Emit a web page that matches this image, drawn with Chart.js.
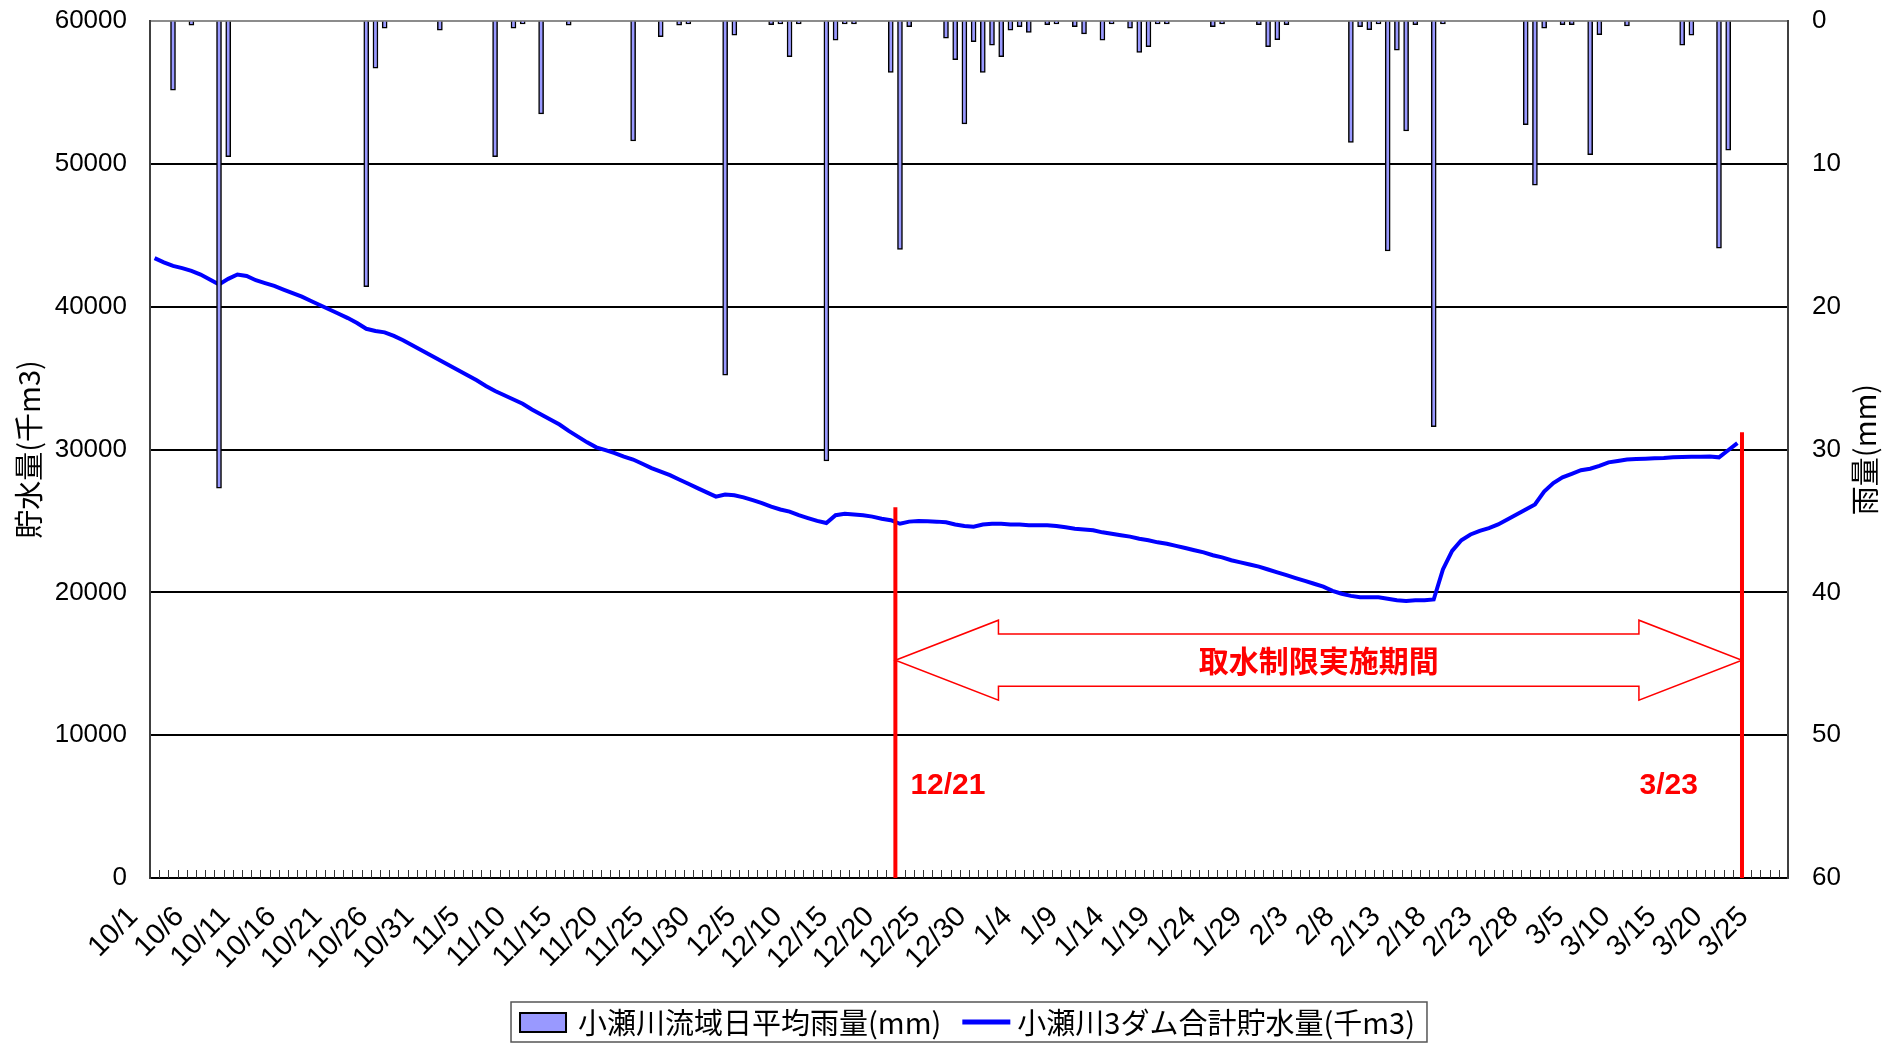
<!DOCTYPE html>
<html lang="ja">
<head>
<meta charset="utf-8">
<title>小瀬川 貯水量と雨量</title>
<script src="https://cdn.jsdelivr.net/npm/chart.js@4.4.1/dist/chart.umd.min.js"></script>
<style>
    html, body { margin: 0; padding: 0; background: #fff; }
    #wrap { width: 1899px; height: 1044px; }
</style>
</head>
<body>
<div id="wrap"><canvas id="myChart" width="1899" height="1044"></canvas></div>
<script>
// Fechas del eje X: del 10/1 al 3/27 (un dato por día)
const meses = [[10, 31], [11, 30], [12, 31], [1, 31], [2, 28], [3, 27]];
const fechas = [];
meses.forEach(([mes, dias]) => {
    for (let d = 1; d <= dias; d++) fechas.push(`${mes}/${d}`);
});

// Cada cuántos días se escribe una etiqueta
const pasoEtiqueta = 5;

// Lluvia media diaria de la cuenca (mm), eje derecho invertido
const lluvia = [
    0, 0, 4.85, 0, 0.3, 0, 0, 32.7, 9.5, 0,
    0, 0, 0, 0, 0, 0, 0, 0, 0, 0,
    0, 0, 0, 18.6, 3.3, 0.5, 0, 0, 0, 0,
    0, 0.65, 0, 0, 0, 0, 0, 9.5, 0, 0.5,
    0.2, 0, 6.5, 0, 0, 0.3, 0, 0, 0, 0,
    0, 0, 8.4, 0, 0, 1.1, 0, 0.3, 0.2, 0,
    0, 0, 24.8, 1.0, 0, 0, 0, 0.25, 0.2, 2.5,
    0.2, 0, 0, 30.8, 1.35, 0.2, 0.2, 0, 0, 0,
    3.6, 16.0, 0.4, 0, 0, 0, 1.2, 2.7, 7.2, 1.45,
    3.6, 1.7, 2.5, 0.65, 0.4, 0.8, 0, 0.25, 0.2, 0,
    0.4, 0.9, 0, 1.35, 0.2, 0, 0.5, 2.2, 1.8, 0.2,
    0.2, 0, 0, 0, 0, 0.4, 0.2, 0, 0, 0,
    0.25, 1.8, 1.3, 0.25, 0, 0, 0, 0, 0, 0,
    8.5, 0.4, 0.6, 0.2, 16.1, 2.05, 7.7, 0.25, 0, 28.4,
    0.2, 0, 0, 0, 0, 0, 0, 0, 0, 7.25,
    11.5, 0.5, 0, 0.25, 0.25, 0, 9.35, 0.95, 0, 0,
    0.35, 0, 0, 0, 0, 0, 1.7, 1.0, 0, 0,
    15.9, 9.05, 0, 0, 0, 0, 0, 0
];

// Volumen total almacenado en las 3 presas (miles de m3), eje izquierdo
const almacenado = [
    43400, 43100, 42850, 42700, 42500, 42250, 41900, 41550, 41950, 42250,
    42150, 41850, 41650, 41450, 41200, 40950, 40700, 40400, 40100, 39800,
    39500, 39200, 38850, 38450, 38300, 38200, 37950, 37650, 37300, 36950,
    36600, 36250, 35900, 35550, 35200, 34850, 34450, 34100, 33800, 33500,
    33200, 32800, 32450, 32100, 31750, 31300, 30900, 30500, 30150, 29950,
    29750, 29500, 29300, 29000, 28700, 28450, 28200, 27900, 27600, 27300,
    27000, 26700, 26850, 26800, 26650, 26450, 26250, 26000, 25800, 25650,
    25400, 25200, 25000, 24850, 25400, 25500, 25450, 25400, 25300, 25150,
    25050, 24800, 24950, 25000, 24980, 24950, 24900, 24750, 24650, 24600,
    24750, 24800, 24800, 24750, 24750, 24700, 24700, 24700, 24650, 24550,
    24450, 24400, 24350, 24200, 24100, 24000, 23900, 23750, 23650, 23500,
    23400, 23250, 23100, 22950, 22800, 22600, 22450, 22250, 22100, 21950,
    21800, 21600, 21400, 21200, 21000, 20800, 20600, 20400, 20100, 19900,
    19750, 19650, 19650, 19650, 19550, 19450, 19400, 19450, 19450, 19500,
    21600, 22900, 23650, 24050, 24300, 24500, 24750, 25100, 25450, 25800,
    26150, 27050, 27650, 28050, 28300, 28550, 28650, 28850, 29100, 29200,
    29300, 29330, 29350, 29380, 29400, 29450, 29480, 29500, 29500, 29510,
    29450, 29950, 30450, null, null, null, null, null
];

// Periodo de restricción de toma de agua (índices de fecha)
const inicioRestriccion = 81;   // 12/21
const finRestriccion = 173;     // 3/23
const textoRestriccion = "取水制限実施期間";
const etiquetaInicio = "12/21";
const etiquetaFin = "3/23";

// Títulos y leyenda
const tituloIzq = "貯水量(千m3)";
const tituloDer = "雨量(mm)";
const nombreLluvia = "小瀬川流域日平均雨量(mm)";
const nombreAlmacenado = "小瀬川3ダム合計貯水量(千m3)";

const fuenteLatina = "'Liberation Sans', Arial, sans-serif";
const fuenteJp = "'Noto Sans CJK JP', sans-serif";

const colorBarra = "#9999FF";
const colorLinea = "#0000FF";
const rojo = "#FF0000";

// Marcas del eje X hacia dentro, en los límites de cada día
const plugMarcasX = {
    id: "marcasX",
    beforeDatasetsDraw(chart) {
        const {ctx, scales: {x}, chartArea} = chart;
        const paso = x.getPixelForValue(1) - x.getPixelForValue(0);
        ctx.save();
        ctx.strokeStyle = "#333";
        ctx.lineWidth = 1;
        for (let i = 0; i <= fechas.length; i++) {
            const px = Math.round(x.getPixelForValue(i) - paso / 2) + 0.5;
            ctx.beginPath();
            ctx.moveTo(px, chartArea.bottom);
            ctx.lineTo(px, chartArea.bottom - 8);
            ctx.stroke();
        }
        ctx.restore();
    }
};

// Líneas rojas, flecha doble y textos del periodo de restricción
const plugRestriccion = {
    id: "restriccion",
    afterDatasetsDraw(chart) {
        const {ctx, scales: {x, yAlm}, chartArea} = chart;
        const paso = x.getPixelForValue(1) - x.getPixelForValue(0);
        const borde = i => x.getPixelForValue(i) - paso / 2;
        const xI = borde(inicioRestriccion);
        const xF = borde(finRestriccion);

        ctx.save();
        // Líneas verticales
        ctx.strokeStyle = rojo;
        ctx.lineWidth = 4;
        [[xI, 25950], [xF, 31200]].forEach(([px, tope]) => {
            ctx.beginPath();
            ctx.moveTo(px, yAlm.getPixelForValue(tope));
            ctx.lineTo(px, chartArea.bottom);
            ctx.stroke();
        });

        // Flecha doble
        const yM = yAlm.getPixelForValue(15250);
        const yS1 = yAlm.getPixelForValue(17080);
        const yS2 = yAlm.getPixelForValue(13430);
        const yH1 = yAlm.getPixelForValue(18050);
        const yH2 = yAlm.getPixelForValue(12450);
        const cabI = xI + 11.2 * paso;
        const cabF = xF - 11.2 * paso;
        ctx.beginPath();
        ctx.moveTo(xI, yM);
        ctx.lineTo(cabI, yH1);
        ctx.lineTo(cabI, yS1);
        ctx.lineTo(cabF, yS1);
        ctx.lineTo(cabF, yH1);
        ctx.lineTo(xF, yM);
        ctx.lineTo(cabF, yH2);
        ctx.lineTo(cabF, yS2);
        ctx.lineTo(cabI, yS2);
        ctx.lineTo(cabI, yH2);
        ctx.closePath();
        ctx.fillStyle = "#fff";
        ctx.fill();
        ctx.lineWidth = 1.5;
        ctx.stroke();

        // Textos en rojo
        ctx.fillStyle = rojo;
        ctx.textBaseline = "middle";
        ctx.textAlign = "center";
        ctx.font = `bold 30px ${fuenteJp}`;
        ctx.fillText(textoRestriccion, (xI + xF) / 2, yM);
        ctx.font = `bold 30px ${fuenteLatina}`;
        const yFecha = yAlm.getPixelForValue(6450);
        ctx.textAlign = "left";
        ctx.fillText(etiquetaInicio, xI + 15, yFecha);
        ctx.textAlign = "right";
        ctx.fillText(etiquetaFin, xF - 44, yFecha);
        ctx.restore();
    }
};

// Títulos de los ejes y leyenda con marco
const plugTextos = {
    id: "textos",
    afterDraw(chart) {
        const {ctx, chartArea} = chart;
        const yc = (chartArea.top + chartArea.bottom) / 2;
        ctx.save();
        ctx.fillStyle = "#000";
        ctx.font = `29px ${fuenteJp}`;
        ctx.textAlign = "center";
        ctx.textBaseline = "middle";
        [[chartArea.left - 121, tituloIzq], [chartArea.right + 77, tituloDer]].forEach(([px, t]) => {
            ctx.save();
            ctx.translate(px, yc);
            ctx.rotate(-Math.PI / 2);
            ctx.fillText(t, 0, 0);
            ctx.restore();
        });

        // Leyenda
        ctx.font = `29px ${fuenteJp}`;
        const w1 = ctx.measureText(nombreLluvia).width;
        const w2 = ctx.measureText(nombreAlmacenado).width;
        const total = 9 + 46 + 12 + w1 + 21 + 48 + 7 + w2 + 12;
        const cx = (chartArea.left + chartArea.right) / 2;
        const x0 = cx - total / 2;
        const yTop = 1002, alto = 40, yMid = yTop + alto / 2;
        ctx.strokeStyle = "#555";
        ctx.lineWidth = 1.5;
        ctx.strokeRect(x0, yTop, total, alto);

        let px = x0 + 9;
        ctx.fillStyle = colorBarra;
        ctx.fillRect(px, yMid - 9, 46, 19);
        ctx.strokeStyle = "#000";
        ctx.lineWidth = 2;
        ctx.strokeRect(px, yMid - 9, 46, 19);
        px += 46 + 12;
        ctx.fillStyle = "#000";
        ctx.textAlign = "left";
        ctx.fillText(nombreLluvia, px, yMid + 1);
        px += w1 + 21;
        ctx.strokeStyle = colorLinea;
        ctx.lineWidth = 5;
        ctx.beginPath();
        ctx.moveTo(px, yMid);
        ctx.lineTo(px + 48, yMid);
        ctx.stroke();
        px += 48 + 7;
        ctx.fillText(nombreAlmacenado, px, yMid + 1);
        ctx.restore();
    }
};

Chart.defaults.font.family = fuenteLatina;
Chart.defaults.color = "#000";

const ctx = document.getElementById("myChart").getContext("2d");
const myChart = new Chart(ctx, {
    type: "bar",
    data: {
        labels: fechas,
        datasets: [
            {
                type: "bar",
                label: nombreLluvia,
                data: lluvia,
                yAxisID: "yLluvia",
                backgroundColor: colorBarra,
                borderColor: "#000",
                borderWidth: 1.5,
                barThickness: 5,
                order: 0
            },
            {
                type: "line",
                label: nombreAlmacenado,
                data: almacenado,
                yAxisID: "yAlm",
                borderColor: colorLinea,
                borderWidth: 4,
                pointRadius: 0,
                tension: 0,
                spanGaps: false,
                order: 1
            }
        ]
    },
    options: {
        responsive: false,
        devicePixelRatio: 1,
        animation: false,
        layout: {padding: {top: 21, left: 0, right: 0, bottom: 44}},
        plugins: {
            legend: {display: false},
            tooltip: {enabled: false}
        },
        scales: {
            x: {
                type: "category",
                offset: true,
                grid: {display: false, drawTicks: false},
                border: {display: true, color: "#000", width: 2},
                ticks: {
                    autoSkip: false,
                    minRotation: 45,
                    maxRotation: 45,
                    padding: 22,
                    labelOffset: -21,
                    font: {size: 29},
                    callback: (v, i) => (i % pasoEtiqueta === 0 ? fechas[i] : "")
                },
                afterFit: s => { s.height = 122; }
            },
            yAlm: {
                position: "left",
                min: 0,
                max: 60000,
                ticks: {stepSize: 10000, padding: 0, font: {size: 26}, callback: v => String(v)},
                grid: {
                    drawTicks: true,
                    tickLength: 23,
                    tickColor: "rgba(0,0,0,0)",
                    lineWidth: 2,
                    color: c => (c.tick && c.tick.value === 60000 ? "#8c8c8c" : "#000")
                },
                border: {display: true, color: "#404040", width: 2},
                afterFit: s => { s.width = 150; }
            },
            yLluvia: {
                position: "right",
                reverse: true,
                min: 0,
                max: 60,
                ticks: {stepSize: 10, padding: 0, font: {size: 26}},
                grid: {
                    drawOnChartArea: false,
                    drawTicks: true,
                    tickLength: 24,
                    tickColor: "rgba(0,0,0,0)"
                },
                border: {display: true, color: "#404040", width: 2},
                afterFit: s => { s.width = 111; }
            }
        }
    },
    plugins: [plugMarcasX, plugRestriccion, plugTextos]
});
</script>
</body>
</html>
